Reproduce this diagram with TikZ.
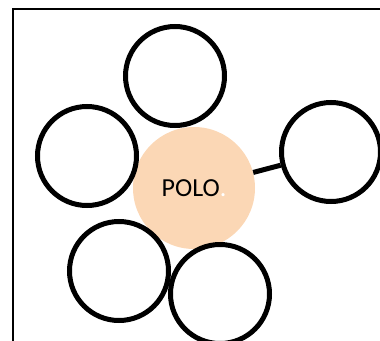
\documentclass[tikz,border=0pt]{standalone}
\usepackage{fontspec}
\setmainfont{Carlito}
\usepackage{tikz}
\usetikzlibrary{positioning}
\definecolor{peach}{RGB}{251,215,181}

\begin{document}
\begin{tikzpicture}[
    x=1pt, y=-1pt,
    ring/.style={circle, draw=black, line width=5pt, fill=white,
                 minimum size=99pt, inner sep=0pt},
    hub/.style={circle, fill=peach, minimum size=122pt, inner sep=0pt,
                font=\fontsize{26}{30}\selectfont},
    link/.style={line width=5pt, black}
]
    \useasboundingbox (0,0) rectangle (380,340);
    \clip (0,0) rectangle (380,340);
    % Frame
    \draw[line width=2pt] (13,9) rectangle (400,360);

    % Centre
    \node[hub] (polo) at (194,188) {POLO\textcolor{white}{.}};

    % Outer circles
    \node[ring] (top) at (175,76) {};
    \node[ring] (left) at (87,156) {};
    \node[ring] (right) at (331,152) {};
    \node[ring] (lowleft) at (119,271) {};
    \node[ring] (lowright) at (220,294) {};

    % Connector
    \draw[link] (polo) -- (right);
\end{tikzpicture}
\end{document}
